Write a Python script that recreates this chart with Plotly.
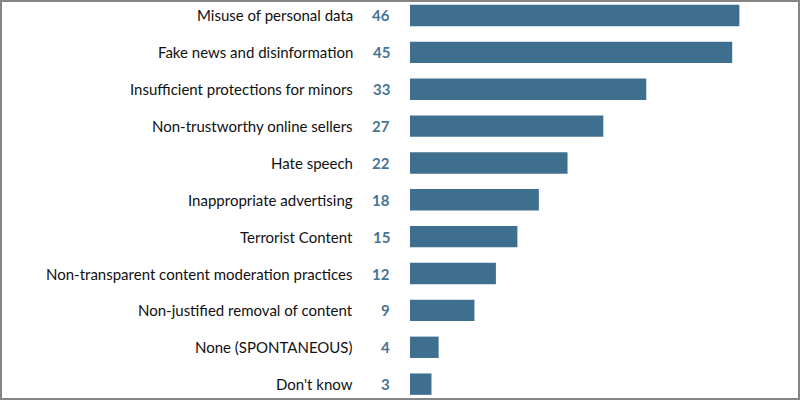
import plotly.graph_objects as go

categories = [
    "Misuse of personal data",
    "Fake news and disinformation",
    "Insufficient protections for minors",
    "Non-trustworthy online sellers",
    "Hate speech",
    "Inappropriate advertising",
    "Terrorist Content",
    "Non-transparent content moderation practices",
    "Non-justified removal of content",
    "None (SPONTANEOUS)",
    "Don't know",
]
values = [46, 45, 33, 27, 22, 18, 15, 12, 9, 4, 3]

W, H = 800, 400
ML, MR, MT, MB = 410, 32, 0, 0
PW = W - ML - MR

BAR = "#3f6f8e"
NUM = "#477595"
FONT = "Lato"

fig = go.Figure(go.Bar(
    x=values, y=list(range(len(categories))), orientation="h",
    marker=dict(color=BAR, line=dict(width=0)), width=0.58,
    hoverinfo="skip",
))

ann = []
for i, (c, v) in enumerate(zip(categories, values)):
    ann.append(dict(x=0, y=i, xref="x", yref="y", text=c, showarrow=False,
                    xanchor="right", xshift=-55, font=dict(family=FONT, size=15, color="#111111")))
    ann.append(dict(x=0, y=i, xref="x", yref="y", text=f"<b>{v}</b>", showarrow=False,
                    xanchor="right", xshift=-18, font=dict(family=FONT, size=15, color=NUM)))

fig.update_layout(
    width=W, height=H,
    margin=dict(l=ML, r=MR, t=MT, b=MB),
    paper_bgcolor="white", plot_bgcolor="white",
    showlegend=False,
    xaxis=dict(range=[0, 50], visible=False, fixedrange=True),
    yaxis=dict(range=[10.43, -0.42], visible=False, fixedrange=True),
    annotations=ann,
    shapes=[dict(type="rect", xref="paper", yref="paper",
                 x0=-(ML - 1) / PW, x1=1 + (MR - 1) / PW, y0=1 / H, y1=1 - 1 / H,
                 line=dict(color="#858585", width=2))],
)

fig.write_html("out.html", config={"displayModeBar": False},
               post_script="document.body.style.margin='0';document.body.style.overflow='hidden';")
